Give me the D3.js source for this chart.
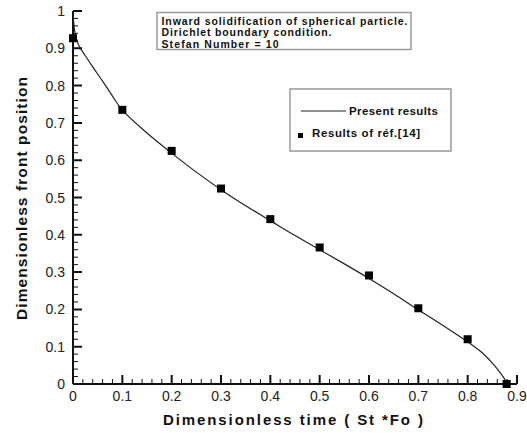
<!DOCTYPE html>
<html><head><meta charset="utf-8">
<script src="https://cdn.jsdelivr.net/npm/d3@7"></script>
<style>body{margin:0;background:#fff}svg{display:block}</style>
</head><body>
<script>
// Data
const curveT = [0, 0.001, 0.003, 0.006, 0.012, 0.024, 0.04, 0.061, 0.08, 0.1, 0.15, 0.2, 0.25, 0.3, 0.35, 0.4, 0.45, 0.5, 0.55, 0.6, 0.65, 0.7, 0.75, 0.8, 0.83, 0.85, 0.865, 0.875, 0.88];
const curveY = [1.0, 0.975, 0.95, 0.93, 0.907, 0.882, 0.85, 0.81, 0.772, 0.734, 0.673, 0.619, 0.568, 0.521, 0.478, 0.438, 0.398, 0.36, 0.322, 0.283, 0.242, 0.199, 0.157, 0.113, 0.083, 0.056, 0.032, 0.013, 0.0];
const refT = [0, 0.1, 0.2, 0.3, 0.4, 0.5, 0.6, 0.7, 0.8, 0.879];
const refY = [0.927, 0.735, 0.625, 0.524, 0.442, 0.366, 0.291, 0.203, 0.12, 0.0];
const xTicks = [0, 0.1, 0.2, 0.3, 0.4, 0.5, 0.6, 0.7, 0.8, 0.9];
const yTicks = [0, 0.1, 0.2, 0.3, 0.4, 0.5, 0.6, 0.7, 0.8, 0.9, 1];
const infoLines = ["Inward solidification of spherical particle.", "Dirichlet boundary condition.", "Stefan Number = 10"];
const legendLabels = ["Present results", "Results of réf.[14]"];
const xTitle = "Dimensionless time  ( St *Fo )";
const yTitle = "Dimensionless front position";

const W = 527, H = 433;
const svg = d3.select("body").append("svg").attr("width", W).attr("height", H);
const x = d3.scaleLinear().domain([0, 0.9]).range([73, 517]);
const y = d3.scaleLinear().domain([0, 1]).range([384, 11]);
const font = "Arial, 'Liberation Sans', sans-serif";
const ink = "#111";

const isMajor = v => Math.abs(v * 10 - Math.round(v * 10)) < 1e-6;
const xMinor = d3.range(1, 45).map(i => i * 0.02).filter(v => !isMajor(v));
const yMinor = d3.range(1, 50).map(i => i * 0.02).filter(v => !isMajor(v));

const fmt = d => (d === 0 || d === 1) ? String(d) : d3.format(".1f")(d);

// axis lines
svg.append("line").attr("x1", x(0)).attr("x2", x(0.9)).attr("y1", y(0)).attr("y2", y(0))
  .attr("stroke", ink).attr("stroke-width", 2);
svg.append("line").attr("x1", x(0)).attr("x2", x(0)).attr("y1", y(0)).attr("y2", y(1))
  .attr("stroke", ink).attr("stroke-width", 2);

// ticks (inward), drawn from the scales
const tickPath = (vals, len, horiz) => vals.map(v => horiz
  ? `M${x(v)},${y(0)}V${y(0) - len}`
  : `M${x(0)},${y(v)}H${x(0) + len}`).join("");
svg.append("path").attr("d", tickPath(xTicks, 9, true)).attr("stroke", ink).attr("stroke-width", 2).attr("fill", "none");
svg.append("path").attr("d", tickPath(xMinor, 5, true)).attr("stroke", ink).attr("stroke-width", 1).attr("fill", "none");
svg.append("path").attr("d", tickPath(yTicks, 9, false)).attr("stroke", ink).attr("stroke-width", 2).attr("fill", "none");
svg.append("path").attr("d", tickPath(yMinor, 5, false)).attr("stroke", ink).attr("stroke-width", 1).attr("fill", "none");

svg.append("g").selectAll("text").data(xTicks).enter().append("text")
  .attr("x", d => x(d)).attr("y", y(0) + 17).attr("text-anchor", "middle")
  .attr("font-family", font).attr("font-size", 14).attr("fill", "#222").text(fmt);
svg.append("g").selectAll("text").data(yTicks).enter().append("text")
  .attr("x", x(0) - 8).attr("y", d => y(d) + 5).attr("text-anchor", "end")
  .attr("font-family", font).attr("font-size", 14).attr("fill", "#222").text(fmt);

// curve
const pts = curveT.map((t, i) => [t, curveY[i]]);
svg.append("path").datum(pts)
  .attr("d", d3.line().x(d => x(d[0])).y(d => y(d[1])).curve(d3.curveCatmullRom.alpha(0.5)))
  .attr("fill", "none").attr("stroke", "#222").attr("stroke-width", 1.2);

// reference points
svg.selectAll("rect.pt").data(refT.map((t, i) => [t, refY[i]])).enter().append("rect")
  .attr("class", "pt")
  .attr("x", d => x(d[0]) - 4).attr("y", d => y(d[1]) - 4)
  .attr("width", 8).attr("height", 8).attr("fill", "#000");

// info box
svg.append("rect").attr("x", 157).attr("y", 12.5).attr("width", 254).attr("height", 37)
  .attr("fill", "#fff").attr("stroke", "#999").attr("stroke-width", 1.5);
const infoLens = [246, 170, 117];
infoLines.forEach((s, i) => {
  svg.append("text").attr("x", 161.5).attr("y", 25 + i * 11.4)
    .attr("font-family", font).attr("font-size", 10.5).attr("font-weight", "bold")
    .attr("textLength", infoLens[i]).attr("lengthAdjust", "spacing")
    .attr("fill", ink).text(s);
});

// legend
svg.append("rect").attr("x", 290).attr("y", 89).attr("width", 161).attr("height", 62)
  .attr("fill", "#fff").attr("stroke", "#999").attr("stroke-width", 1.5);
svg.append("line").attr("x1", 301).attr("x2", 346).attr("y1", 111).attr("y2", 111)
  .attr("stroke", "#222").attr("stroke-width", 1.2);
svg.append("text").attr("x", 349).attr("y", 115).attr("font-family", font).attr("font-size", 11.5)
  .attr("font-weight", "bold").attr("textLength", 89).attr("lengthAdjust", "spacing").attr("fill", ink).text(legendLabels[0]);
svg.append("rect").attr("x", 298).attr("y", 133).attr("width", 5).attr("height", 5).attr("fill", "#000");
svg.append("text").attr("x", 312).attr("y", 137).attr("font-family", font).attr("font-size", 11.5)
  .attr("font-weight", "bold").attr("textLength", 108).attr("lengthAdjust", "spacing").attr("fill", ink).text(legendLabels[1]);

// axis titles
svg.append("text").attr("x", 293).attr("y", 425).attr("text-anchor", "middle")
  .attr("font-family", font).attr("font-size", 15).attr("font-weight", "bold")
  .attr("textLength", 260).attr("lengthAdjust", "spacing").attr("fill", ink).text(xTitle);
svg.append("text").attr("transform", "translate(27,198.5) rotate(-90)").attr("text-anchor", "middle")
  .attr("font-family", font).attr("font-size", 15.5).attr("font-weight", "bold")
  .attr("textLength", 243).attr("lengthAdjust", "spacing")
  .attr("fill", ink).text(yTitle);
</script>
</body></html>
